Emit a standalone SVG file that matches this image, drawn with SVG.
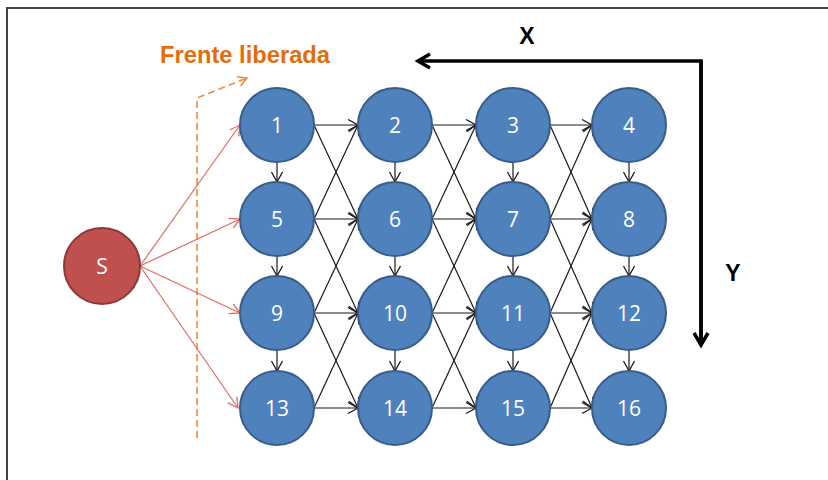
<svg xmlns="http://www.w3.org/2000/svg" width="828" height="480" viewBox="0 0 828 480">
  <style>
    .node circle { fill: #4f81bd; stroke: #385d8a; stroke-width: 2; }
    .src circle { fill: #c0504d; stroke: #8c3836; stroke-width: 2; }
    .lbl { font-family: "Open Sans", "Liberation Sans", sans-serif; font-size: 21px; fill: #ffffff; text-anchor: middle; dominant-baseline: central; }
    .edge { stroke: #1a1a1a; stroke-width: 1.2; fill: none; marker-end: url(#arr); }
    .feed { stroke: #e06b63; stroke-width: 1.2; fill: none; marker-end: url(#arrRed); }
    .axis { stroke: #000000; stroke-width: 3.5; fill: none; }
    .axlbl { font-family: "Liberation Sans", "Open Sans", sans-serif; font-weight: bold; font-size: 23px; fill: #000000; text-anchor: middle; }
  </style>
  <defs>
    <marker id="arr" markerUnits="userSpaceOnUse" markerWidth="14" markerHeight="14" refX="11" refY="6" orient="auto">
      <path d="M1,0.5 L11,6 L1,11.5" fill="none" stroke="#1a1a1a" stroke-width="1.3"/>
    </marker>
    <marker id="arrRed" markerUnits="userSpaceOnUse" markerWidth="14" markerHeight="14" refX="11" refY="6" orient="auto">
      <path d="M1,0.5 L11,6 L1,11.5" fill="none" stroke="#e06b63" stroke-width="1.3"/>
    </marker>
    <marker id="arrOrange" markerUnits="userSpaceOnUse" markerWidth="14" markerHeight="14" refX="10" refY="6" orient="auto">
      <path d="M1,1 L10,6 L1,11" fill="none" stroke="#f08a3c" stroke-width="1.6"/>
    </marker>
    <marker id="arrAxis" markerUnits="userSpaceOnUse" markerWidth="20" markerHeight="20" refX="14" refY="9" orient="auto">
      <path d="M2,2 L14,9 L2,16" fill="none" stroke="#000000" stroke-width="3.5"/>
    </marker>
  </defs>

  <!-- frame -->
  <polyline points="7,480 7,8 828,8" fill="none" stroke="#444444" stroke-width="2"/>

  <!-- released front marker -->
  <g id="frente">
    <text x="245" y="63" font-family="Liberation Sans, Open Sans, sans-serif" font-weight="bold" font-size="23" fill="#e46c0a" text-anchor="middle" textLength="170" lengthAdjust="spacingAndGlyphs">Frente liberada</text>
    <polyline points="197,438 197,98 247,78" fill="none" stroke="#f08a3c" stroke-width="1.6" stroke-dasharray="7,4" marker-end="url(#arrOrange)"/>
  </g>

  <!-- axes -->
  <g id="axes">
    <polyline class="axis" points="701,345 701,61 418,61" marker-end="url(#arrAxis)"/>
    <polyline class="axis" points="701,61 701,345" marker-end="url(#arrAxis)"/>
    <text class="axlbl" x="527" y="44">X</text>
    <text class="axlbl" x="733" y="281">Y</text>
  </g>

  <!-- connectors -->
  <g id="connectors">
    <!-- source to first column -->
    <line class="feed" x1="140" y1="266" x2="240" y2="125"/>
    <line class="feed" x1="140" y1="266" x2="240" y2="219"/>
    <line class="feed" x1="140" y1="266" x2="240" y2="313"/>
    <line class="feed" x1="140" y1="266" x2="238" y2="408"/>

    <!-- horizontal -->
    <line class="edge" x1="314" y1="125" x2="358" y2="125"/>
    <line class="edge" x1="432" y1="125" x2="476" y2="125"/>
    <line class="edge" x1="550" y1="125" x2="592" y2="125"/>
    <line class="edge" x1="314" y1="219" x2="358" y2="219"/>
    <line class="edge" x1="432" y1="219" x2="476" y2="219"/>
    <line class="edge" x1="550" y1="219" x2="592" y2="219"/>
    <line class="edge" x1="314" y1="313" x2="358" y2="313"/>
    <line class="edge" x1="432" y1="313" x2="476" y2="313"/>
    <line class="edge" x1="550" y1="313" x2="592" y2="313"/>
    <line class="edge" x1="314" y1="408" x2="358" y2="408"/>
    <line class="edge" x1="432" y1="408" x2="476" y2="408"/>
    <line class="edge" x1="550" y1="408" x2="592" y2="408"/>

    <!-- diagonal down -->
    <line class="edge" x1="314" y1="125" x2="358" y2="219"/>
    <line class="edge" x1="432" y1="125" x2="476" y2="219"/>
    <line class="edge" x1="550" y1="125" x2="592" y2="219"/>
    <line class="edge" x1="314" y1="219" x2="358" y2="313"/>
    <line class="edge" x1="432" y1="219" x2="476" y2="313"/>
    <line class="edge" x1="550" y1="219" x2="592" y2="313"/>
    <line class="edge" x1="314" y1="313" x2="358" y2="408"/>
    <line class="edge" x1="432" y1="313" x2="476" y2="408"/>
    <line class="edge" x1="550" y1="313" x2="592" y2="408"/>

    <!-- diagonal up -->
    <line class="edge" x1="314" y1="219" x2="358" y2="125"/>
    <line class="edge" x1="432" y1="219" x2="476" y2="125"/>
    <line class="edge" x1="550" y1="219" x2="592" y2="125"/>
    <line class="edge" x1="314" y1="313" x2="358" y2="219"/>
    <line class="edge" x1="432" y1="313" x2="476" y2="219"/>
    <line class="edge" x1="550" y1="313" x2="592" y2="219"/>
    <line class="edge" x1="314" y1="408" x2="358" y2="313"/>
    <line class="edge" x1="432" y1="408" x2="476" y2="313"/>
    <line class="edge" x1="550" y1="408" x2="592" y2="313"/>

    <!-- vertical -->
    <line class="edge" x1="277" y1="162" x2="277" y2="182"/>
    <line class="edge" x1="395" y1="162" x2="395" y2="182"/>
    <line class="edge" x1="513" y1="162" x2="513" y2="182"/>
    <line class="edge" x1="629" y1="162" x2="629" y2="182"/>
    <line class="edge" x1="277" y1="256" x2="277" y2="276"/>
    <line class="edge" x1="395" y1="256" x2="395" y2="276"/>
    <line class="edge" x1="513" y1="256" x2="513" y2="276"/>
    <line class="edge" x1="629" y1="256" x2="629" y2="276"/>
    <line class="edge" x1="277" y1="350" x2="277" y2="371"/>
    <line class="edge" x1="395" y1="350" x2="395" y2="371"/>
    <line class="edge" x1="513" y1="350" x2="513" y2="371"/>
    <line class="edge" x1="629" y1="350" x2="629" y2="371"/>
  </g>

  <!-- source node -->
  <g id="nodeS" class="src"><circle cx="102" cy="266" r="38"/><text class="lbl" x="102" y="266">S</text></g>

  <!-- grid nodes -->
  <g id="node1" class="node"><circle cx="277" cy="125" r="37"/><text class="lbl" x="277" y="125">1</text></g>
  <g id="node2" class="node"><circle cx="395" cy="125" r="37"/><text class="lbl" x="395" y="125">2</text></g>
  <g id="node3" class="node"><circle cx="513" cy="125" r="37"/><text class="lbl" x="513" y="125">3</text></g>
  <g id="node4" class="node"><circle cx="629" cy="125" r="37"/><text class="lbl" x="629" y="125">4</text></g>
  <g id="node5" class="node"><circle cx="277" cy="219" r="37"/><text class="lbl" x="277" y="219">5</text></g>
  <g id="node6" class="node"><circle cx="395" cy="219" r="37"/><text class="lbl" x="395" y="219">6</text></g>
  <g id="node7" class="node"><circle cx="513" cy="219" r="37"/><text class="lbl" x="513" y="219">7</text></g>
  <g id="node8" class="node"><circle cx="629" cy="219" r="37"/><text class="lbl" x="629" y="219">8</text></g>
  <g id="node9" class="node"><circle cx="277" cy="313" r="37"/><text class="lbl" x="277" y="313">9</text></g>
  <g id="node10" class="node"><circle cx="395" cy="313" r="37"/><text class="lbl" x="395" y="313">10</text></g>
  <g id="node11" class="node"><circle cx="513" cy="313" r="37"/><text class="lbl" x="513" y="313">11</text></g>
  <g id="node12" class="node"><circle cx="629" cy="313" r="37"/><text class="lbl" x="629" y="313">12</text></g>
  <g id="node13" class="node"><circle cx="277" cy="408" r="37"/><text class="lbl" x="277" y="408">13</text></g>
  <g id="node14" class="node"><circle cx="395" cy="408" r="37"/><text class="lbl" x="395" y="408">14</text></g>
  <g id="node15" class="node"><circle cx="513" cy="408" r="37"/><text class="lbl" x="513" y="408">15</text></g>
  <g id="node16" class="node"><circle cx="629" cy="408" r="37"/><text class="lbl" x="629" y="408">16</text></g>
</svg>
